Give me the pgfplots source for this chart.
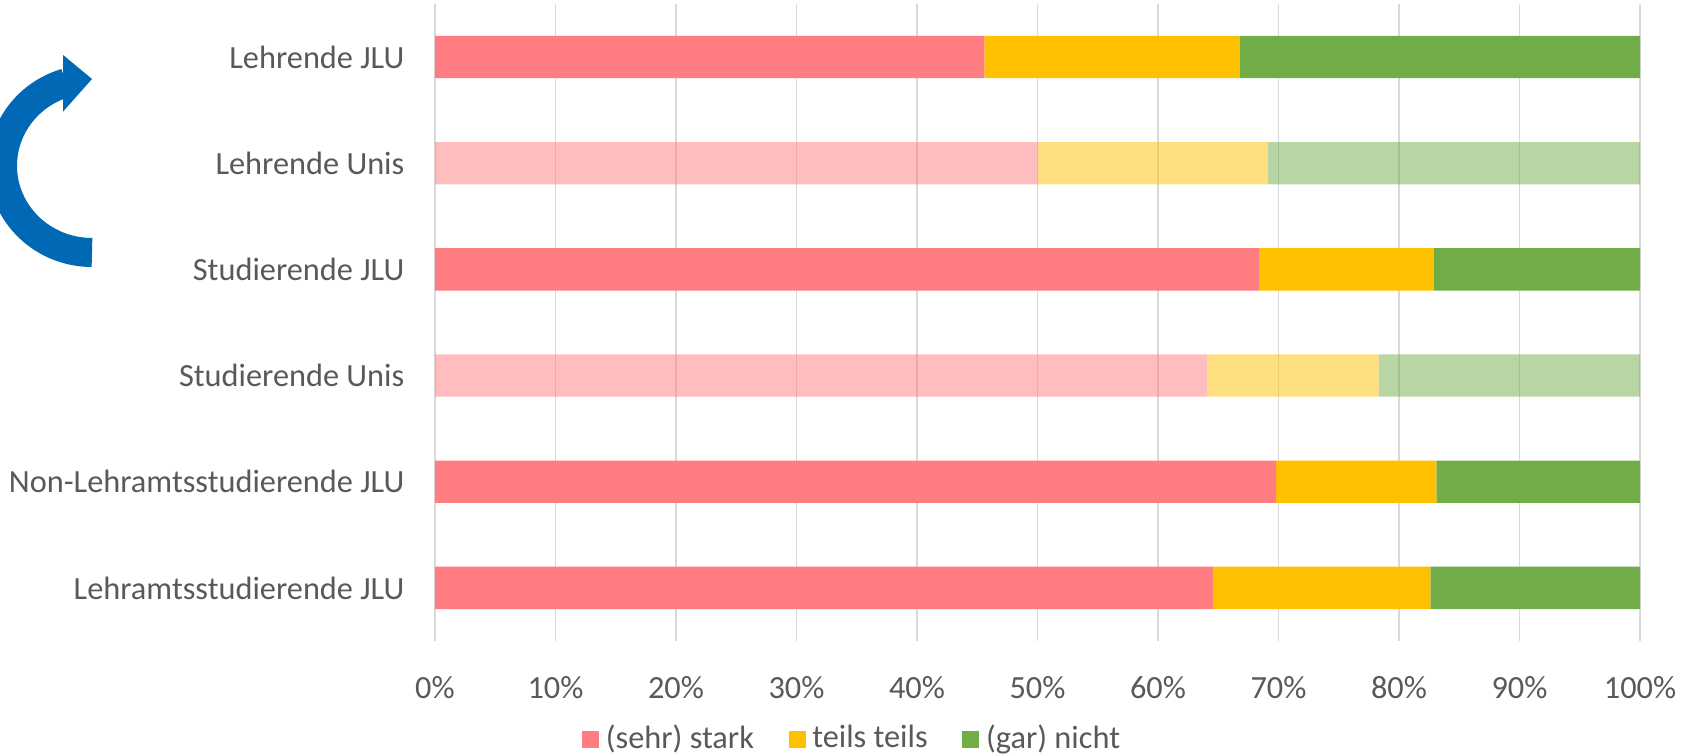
\documentclass[border=0pt]{standalone}
\usepackage{fontspec}
\setmainfont{Carlito}
\usepackage{pgfplots}
\pgfplotsset{compat=1.18}
\definecolor{redc}{HTML}{FF7C80}
\definecolor{yelc}{HTML}{FFC000}
\definecolor{grnc}{HTML}{70AD47}
\definecolor{txt}{HTML}{595959}
\definecolor{gridc}{HTML}{D9D9D9}
\definecolor{arrowc}{HTML}{0068B4}
\newcommand{\fs}{\fontsize{9.7}{11.6}\selectfont}
\begin{document}
\begin{tikzpicture}
\useasboundingbox (0pt,0pt) rectangle (508.8pt,226.2pt);
\begin{scope}[x=0.3pt,y=0.3pt]
\draw[arrowc, line width=8.7pt] (92,501.5) arc[start angle=-90, end angle=-253, x radius=89.5, y radius=86.7];
\fill[arrowc] (63,699) -- (92,675) -- (63,642.3) -- cycle;
\end{scope}
\begin{axis}[
  at={(130.5pt,33.9pt)}, anchor=south west,
  scale only axis, width=361.5pt, height=191.1pt,
  xbar stacked, bar width=12.7pt,
  xmin=0, xmax=100, ymin=-0.5, ymax=5.5,
  xtick={0,10,...,100},
  xticklabels={0\%,10\%,20\%,30\%,40\%,50\%,60\%,70\%,80\%,90\%,100\%},
  ytick={0,1,2,3,4,5},
  yticklabels={Lehramtsstudierende JLU,Non-Lehramtsstudierende JLU,Studierende Unis,Studierende JLU,Lehrende Unis,Lehrende JLU},
  xmajorgrids, major grid style={gridc, line width=0.45pt},
  axis line style={draw=none},
  major tick length=0pt,
  tick label style={font=\fs, text=txt},
  yticklabel style={anchor=east, inner sep=0pt, xshift=-9.0pt},
  xticklabel style={anchor=center, inner sep=0pt, yshift=-14.1pt},
  legend style={at={(0.347,-0.154)}, anchor=center, legend columns=3, draw=none, fill=none,
    font=\fs, text=txt, inner sep=0pt,
    nodes={inner sep=1.2pt},
    /tikz/every odd column/.append style={column sep=0.8pt},
    /tikz/every even column/.append style={column sep=9.2pt}},
]
% solid (JLU) rows
\addplot[fill=redc, draw=none, legend image code/.code={\fill[redc] (0pt,-2.55pt) rectangle (5.1pt,2.55pt);}]
  coordinates {(64.6,0) (69.8,1) (0,2) (68.4,3) (0,4) (45.6,5)};
\addplot[fill=yelc, draw=none, legend image code/.code={\fill[yelc] (0pt,-2.55pt) rectangle (5.1pt,2.55pt);}]
  coordinates {(18.0,0) (13.3,1) (0,2) (14.5,3) (0,4) (21.2,5)};
\addplot[fill=grnc, draw=none, legend image code/.code={\fill[grnc] (0pt,-2.55pt) rectangle (5.1pt,2.55pt);}]
  coordinates {(17.4,0) (16.9,1) (0,2) (17.1,3) (0,4) (33.2,5)};
% pale (Unis) rows
\addplot[fill=redc, fill opacity=0.5, draw=none]
  coordinates {(0,0) (0,1) (64.1,2) (0,3) (50.0,4) (0,5)};
\addplot[fill=yelc, fill opacity=0.5, draw=none]
  coordinates {(0,0) (0,1) (14.2,2) (0,3) (19.1,4) (0,5)};
\addplot[fill=grnc, fill opacity=0.5, draw=none]
  coordinates {(0,0) (0,1) (21.7,2) (0,3) (30.9,4) (0,5)};
\legend{(sehr) stark,teils teils,(gar) nicht}
\end{axis}
\end{tikzpicture}
\end{document}
